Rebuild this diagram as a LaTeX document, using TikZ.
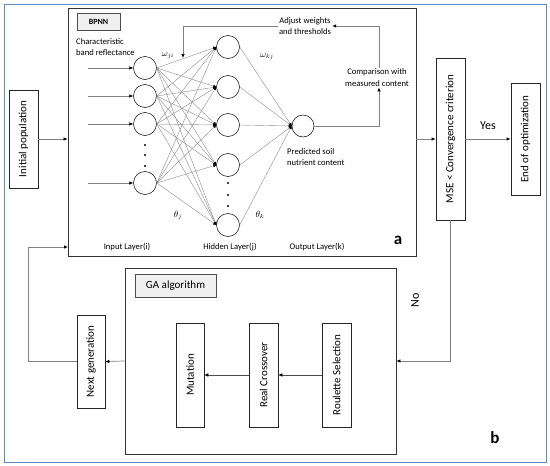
\documentclass[tikz,border=0pt]{standalone}
\usepackage{fontspec}
\setmainfont{Carlito}
\usetikzlibrary{arrows.meta}
\begin{document}
\begin{tikzpicture}[x=1pt,y=-1pt,
  conn/.style={draw=black!50, line width=0.7pt, -{Latex[length=4pt,width=3.5pt,color=black]}},
  thin/.style={draw=black!45, line width=0.4pt, -{Latex[length=3pt,width=3pt,color=black]}},
  vbox/.style={draw=black!85, line width=0.7pt, rotate=90, inner sep=0pt, font=\fontsize{11}{13}\selectfont},
  frame/.style={draw=black!80, line width=0.8pt, inner sep=0pt},
  tag/.style={draw=black!70, fill=black!6, line width=0.6pt, inner sep=0pt},
  neuron/.style={circle, draw=black, line width=0.5pt, minimum size=23pt, inner sep=0pt},
  small/.style={font=\fontsize{8.6}{11.5}\selectfont, inner sep=1pt},
  dot/.style={circle, fill=black, inner sep=0pt, minimum size=2.4pt}]
\useasboundingbox (0,0) rectangle (550,466);
% outer blue frame
\draw[draw={rgb,255:red,91;green,139;blue,196}, line width=1pt] (4,4) rectangle (546,462);

% panel a
\node[frame, minimum width=348pt, minimum height=248pt] (bpnn) at (242,132) {};
\node[tag, minimum width=43pt, minimum height=17pt, font=\fontsize{8}{10}\selectfont\bfseries] (bptag) at (98.5,21.5) {BPNN};
\node[small, anchor=west, align=left] (charlbl) at (75,47) {Characteristic\\band reflectance};

% input neurons
\node[neuron] (i1) at (145,68) {};
\node[neuron] (i2) at (145,96) {};
\node[neuron] (i3) at (145,124) {};
\node[neuron] (i4) at (145,183) {};
\node[dot] (di1) at (145,145) {};
\node[dot] (di2) at (145,155) {};
\node[dot] (di3) at (145,166) {};
% hidden neurons
\node[neuron] (h1) at (228,47) {};
\node[neuron] (h2) at (228,87) {};
\node[neuron] (h3) at (228,125) {};
\node[neuron] (h4) at (228,165) {};
\node[neuron] (h5) at (228,225) {};
\node[dot] (dh1) at (228,183) {};
\node[dot] (dh2) at (228,195) {};
\node[dot] (dh3) at (228,206) {};
% output neuron
\node[neuron, minimum size=22pt] (o) at (303,126) {};

% input arrows
\foreach \n/\y in {i1/68,i2/96,i3/124,i4/183}{
  \coordinate (s\n) at (88,\y);
  \draw[conn, line width=0.6pt] (s\n) -- (\n.west);
}
\foreach \a in {i1,i2,i3,i4}{
  \foreach \b in {h1,h2,h3,h4,h5}{
    \draw[thin] (\a.east) -- (\b.west);
  }
}
\foreach \b in {h1,h2,h3,h4,h5}{
  \draw[thin] (\b.east) -- (o.west);
}

\node[small] (wji) at (168,56) {$\omega_{ji}$};
\node[small] (wkj) at (267,57) {$\omega_{kj}$};
\node[small] (thj) at (178,215) {$\theta_j$};
\node[small] (thk) at (260,215) {$\theta_k$};

\node[small, anchor=west, align=left] (pred) at (286,157) {Predicted soil\\nutrient content};
\node[small, align=center] (cmp) at (377,77.5) {Comparison with\\measured content};
\node[small, align=center] (adj) at (305,26) {Adjust weights\\and thresholds};
\coordinate (wt) at (183,58);
\coordinate (cr) at (379,126);
\draw[conn] (o.east) -- (cr) -- (cr |- cmp.south);
\draw[conn] (cr |- cmp.north) |- (adj.east);
\draw[conn] (adj.west) -| (wt);

\node[small] (inl) at (127,247) {Input Layer(i)};
\node[small] (hidl) at (230,247) {Hidden Layer(j)};
\node[small] (outl) at (317,247) {Output Layer(k)};
\node[font=\fontsize{17}{17}\selectfont\bfseries] (alab) at (398,240) {a};

% left / right boxes
\node[vbox, minimum width=98pt, minimum height=29pt] (init) at (23.5,139) {Initial population};
\node[vbox, minimum width=162pt, minimum height=29pt] (mse) at (450.5,139) {MSE {<} Convergence criterion};
\node[vbox, minimum width=112pt, minimum height=29pt] (endo) at (525.5,139) {End of optimization};
\draw[conn] (init.south) -- (init.south -| bpnn.west);
\draw[conn] (bpnn.east |- mse.north) -- (mse.north);
\draw[conn] (mse.south) -- (endo.north);
\node[font=\fontsize{12}{14}\selectfont] (yes) at (488,126) {Yes};

% panel b
\node[frame, minimum width=271pt, minimum height=186pt] (ga) at (260.5,361) {};
\node[tag, minimum width=81pt, minimum height=23pt, font=\fontsize{11}{13}\selectfont] (gatag) at (175.5,285.5) {GA algorithm};
\node[vbox, minimum width=104pt, minimum height=28pt] (mut) at (190,375) {Mutation};
\node[vbox, minimum width=104pt, minimum height=29pt] (cross) at (263.5,375) {Real Crossover};
\node[vbox, minimum width=104pt, minimum height=29pt] (roul) at (336.5,375) {Roulette Selection};
\draw[conn, draw=black!70, line width=0.5pt] (roul.north) -- (cross.south);
\draw[conn, draw=black!70, line width=0.5pt] (cross.north) -- (mut.south);
\node[vbox, minimum width=93pt, minimum height=28pt] (ng) at (91,361.5) {Next generation};
\draw[conn] (ga.west) -- (ng.south);
\coordinate (fbl) at (28,361.5);
\coordinate (fbt) at (68,247);
\draw[conn] (ng.north) -- (fbl) |- (fbt);
\draw[conn] (mse.west) |- (ga.east);
\node[vbox, draw=none, inner sep=1pt, font=\fontsize{12}{14}\selectfont] (no) at (415,300) {No};
\node[font=\fontsize{17}{17}\selectfont\bfseries] (blab) at (495,438) {b};
\end{tikzpicture}
\end{document}
